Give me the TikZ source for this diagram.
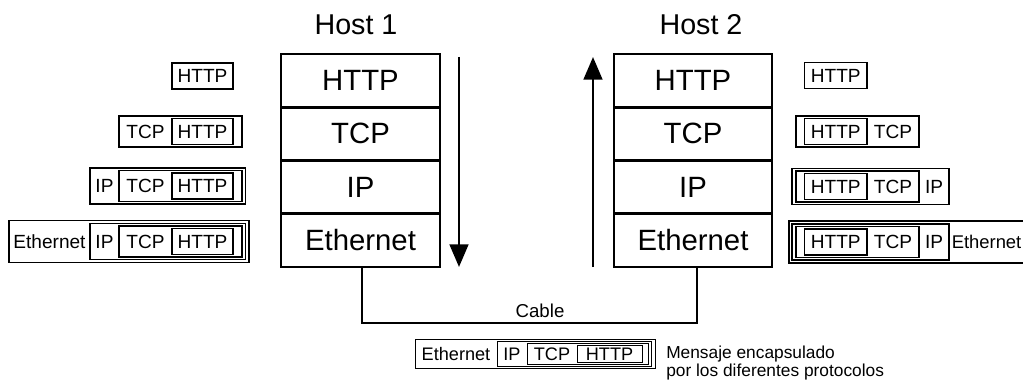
\documentclass[tikz,border=0pt]{standalone}
\usepackage{fontspec}
\setmainfont{Liberation Sans}
\usetikzlibrary{fit,arrows.meta}
\begin{document}
\begin{tikzpicture}[x=0.75pt,y=-0.75pt,
  layer/.style={draw, line width=2.2pt, inner sep=0pt, minimum height=39.94pt, font=\fontsize{22}{26}\selectfont},
  stack1/.style={layer, minimum width=119.25pt},
  stack2/.style={layer, minimum width=118.5pt},
  enc/.style={draw, line width=0.9pt, inner sep=0pt},
  encs/.style={draw, line width=0.7pt, inner sep=0pt},
  lbl/.style={inner sep=0pt, font=\fontsize{14.3}{17}\selectfont},
  lbls/.style={inner sep=0pt, font=\fontsize{13.6}{16}\selectfont},
  flow/.style={line width=2pt, -{Triangle[length=17pt,width=14pt]}},
  cable/.style={line width=1.5pt},
  hosttitle/.style={inner sep=0pt, font=\fontsize{21.5}{25}\selectfont},
  note/.style={inner sep=0pt, align=left, font=\fontsize{13}{13.8}\selectfont}]
\useasboundingbox (0,0) rectangle (1023,385);
\clip (0,0) rectangle (1023,385);

% ---------- Host 1 stack ----------
\node[hosttitle] (t1) at (356,25) {Host 1};
\node[stack1] (h1http) at (360.5,80.6) {HTTP};
\node[stack1] (h1tcp) at (360.5,133.9) {TCP};
\node[stack1] (h1ip) at (360.5,187.1) {IP};
\node[stack1] (h1eth) at (360.5,240.4) {Ethernet};

% ---------- Host 2 stack ----------
\node[hosttitle] (t2) at (701,25) {Host 2};
\node[stack2] (h2http) at (693,80.6) {HTTP};
\node[stack2] (h2tcp) at (693,133.9) {TCP};
\node[stack2] (h2ip) at (693,187.1) {IP};
\node[stack2] (h2eth) at (693,240.4) {Ethernet};

% ---------- flow arrows ----------
\coordinate (a1s) at (459,57);
\coordinate (a1e) at (459,267);
\coordinate (a2s) at (593,267);
\coordinate (a2e) at (593,57);
\draw[flow] (a1s) -- (a1e);
\draw[flow] (a2s) -- (a2e);

% ---------- cable ----------
\coordinate (cab1) at (362,323);
\coordinate (cab2) at (697,323);
\draw[cable] (h1eth.south -| cab1) -- (cab1) -- (cab2) -- (h2eth.south -| cab2);
\node[lbl, font=\fontsize{14}{17}\selectfont] (cablelbl) at (540,311) {Cable};

% ---------- left encapsulation ----------
% row 1
\node[enc, fit={(172,63) (233,89)}] (l1http) {};
\node[lbl] (l1httpt) at (202.5,76) {HTTP};
% row 2
\node[enc, fit={(119,116) (242,147)}] (l2tcp) {};
\node[enc, fit={(172,118.5) (233,144.5)}] (l2http) {};
\node[lbl] (l2tcpt) at (145.5,131.5) {TCP};
\node[lbl] (l2httpt) at (202.5,131.5) {HTTP};
% row 3
\node[enc, fit={(90,168) (245.5,204)}] (l3ip) {};
\node[enc, fit={(119,170.5) (242,201.5)}] (l3tcp) {};
\node[enc, fit={(172,173) (233,199)}] (l3http) {};
\node[lbl] (l3ipt) at (104.5,186) {IP};
\node[lbl] (l3tcpt) at (145.5,186) {TCP};
\node[lbl] (l3httpt) at (202.5,186) {HTTP};
% row 4
\node[enc, fit={(9,220.5) (249,262.5)}] (l4eth) {};
\node[enc, fit={(90,223.5) (245.5,259.5)}] (l4ip) {};
\node[enc, fit={(119,226) (242,257)}] (l4tcp) {};
\node[enc, fit={(172,228.5) (233,254.5)}] (l4http) {};
\node[lbl] (l4etht) at (49.5,241.5) {Ethernet};
\node[lbl] (l4ipt) at (104.5,241.5) {IP};
\node[lbl] (l4tcpt) at (145.5,241.5) {TCP};
\node[lbl] (l4httpt) at (202.5,241.5) {HTTP};

% ---------- right encapsulation ----------
% row 1
\node[enc, fit={(804.5,62.5) (867,88.5)}] (r1http) {};
\node[lbl] (r1httpt) at (835.75,75.5) {HTTP};
% row 2
\node[enc, fit={(796,116) (919,147)}] (r2tcp) {};
\node[enc, fit={(804.5,118.5) (867,144.5)}] (r2http) {};
\node[lbl] (r2httpt) at (835.75,131.5) {HTTP};
\node[lbl] (r2tcpt) at (893,131.5) {TCP};
% row 3
\node[enc, fit={(792,168.5) (949,204.5)}] (r3ip) {};
\node[enc, fit={(796,171) (919,202)}] (r3tcp) {};
\node[enc, fit={(804.5,173.5) (867,199.5)}] (r3http) {};
\node[lbl] (r3httpt) at (835.75,186.5) {HTTP};
\node[lbl] (r3tcpt) at (893,186.5) {TCP};
\node[lbl] (r3ipt) at (934,186.5) {IP};
% row 4
\node[enc, fit={(789,221) (1040,263)}] (r4eth) {};
\node[enc, fit={(792,224) (949,260)}] (r4ip) {};
\node[enc, fit={(796,226.5) (919,257.5)}] (r4tcp) {};
\node[enc, fit={(804.5,229) (867,255)}] (r4http) {};
\node[lbl] (r4httpt) at (835.75,242) {HTTP};
\node[lbl] (r4tcpt) at (893,242) {TCP};
\node[lbl] (r4ipt) at (934,242) {IP};
\node[lbl, anchor=west, font=\fontsize{13.8}{17}\selectfont] (r4etht) at (951.5,242) {Ethernet};

% ---------- bottom legend ----------
\node[encs, fit={(415,339.5) (655,368.5)}] (beth) {};
\node[encs, fit={(497,341.5) (651.5,366.5)}] (bip) {};
\node[encs, fit={(527,343.5) (648,364.5)}] (btcp) {};
\node[encs, fit={(577,345.5) (642.5,362.5)}] (bhttp) {};
\node[lbls] (betht) at (456,354) {Ethernet};
\node[lbls] (bipt) at (512,354) {IP};
\node[lbls] (btcpt) at (552,354) {TCP};
\node[lbls] (bhttpt) at (609.5,354) {HTTP};
\node[note, anchor=west] (legend) at (666,363) {Mensaje encapsulado\\por los diferentes protocolos};
\end{tikzpicture}
\end{document}
